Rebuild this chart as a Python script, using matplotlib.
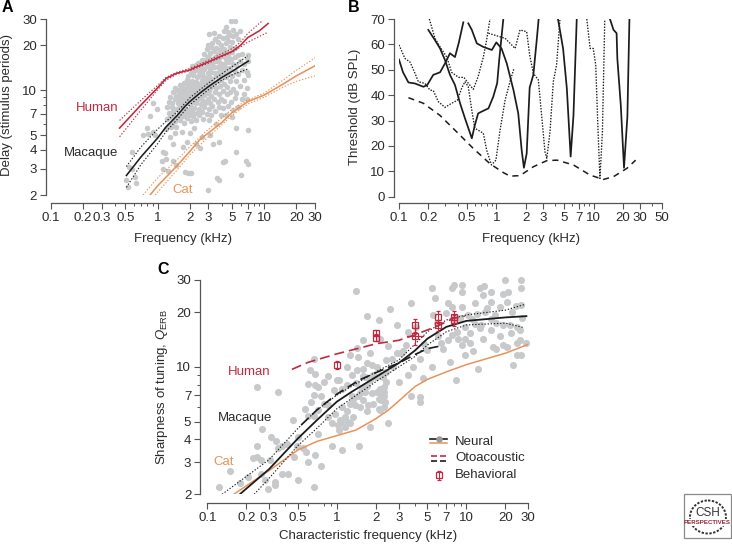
import matplotlib
matplotlib.use('Agg')
import matplotlib.pyplot as plt
from matplotlib.patches import Ellipse, Rectangle
from matplotlib.ticker import NullFormatter
import numpy as np

plt.rcParams['font.family'] = ['Liberation Sans', 'DejaVu Sans']
plt.rcParams['mathtext.fontset'] = 'custom'
plt.rcParams['mathtext.rm'] = 'Liberation Sans'
plt.rcParams['mathtext.it'] = 'Liberation Sans:italic'

W, H = 732, 544
TXT = '#2b2b2b'
AXC = '#555555'
RED = '#c02a41'
ORG = '#e8935a'
BLK = '#1c1c1c'
DOT = '#c8c9ca'

# ---------- panel A ----------
a_sparse_f = [.505, .54, .57, .53, .63, .61, .57, .79, .73, .85, .91, .98, .82, .91, .94,
              1.13, 1.17, 1.09, 1.2, 1.13, 1.26, 1.4, 1.5, 1.8, 1.94, 2.08, 1.73, 1.87, 2.3, 2.5,
              3.3, 3.8, 2.6, 3.1, 2.2, 5.5, 5.5, 7.1, 6.8, 7.1, 6.1, 4.3, 4.1, 3.6, 3.8,
              3.0, 1.4, 1.3, 1.2, 1.35, 1.45, 1.68, 2.0]
a_sparse_d = [2.51, 3.1, 3.9, 2.27, 2.4, 2.65, 3.0, 5.6, 5.0, 6.7, 8.2, 7.5, 5.1, 5.3, 5.0,
              3.9, 3.8, 3.4, 3.5, 3.0, 2.9, 3.4, 3.15, 2.85, 2.8, 2.8, 4.2, 4.5, 4.4, 4.1,
              4.4, 4.5, 4.9, 5.0, 5.6, 3.9, 5.6, 5.4, 3.4, 3.2, 2.7, 3.4, 3.3, 2.6, 2.5,
              2.15, 4.4, 4.9, 5.5, 5.7, 5.2, 5.3, 5.2]

a_strip_f = [1.22, 1.27, 1.31, 1.36, 1.41, 1.45, 1.5, 1.54, 1.58, 1.63, 1.68, 1.73, 1.78, 1.83, 1.88,
             1.94, 1.99, 2.05, 2.1, 2.16, 2.22, 2.28, 2.34, 2.4, 2.46, 2.53, 2.6, 2.67, 2.74, 2.81,
             2.88, 2.95, 3.02, 3.1, 3.18, 3.27, 3.36, 3.45, 3.55, 3.65, 3.75, 3.86, 3.97, 4.1, 4.22,
             4.35, 4.48, 4.62, 4.78, 4.85, 4.95, 5.12, 5.3, 5.5, 5.7, 5.95, 6.2, 6.5, 6.85, 7.1]
a_strip_d = [[6.4, 7.8], [7.1, 8.4, 5.9], [6.6, 9.1], [7.7, 8.3, 6.0], [9.7, 6.9, 7.3],
             [8.7, 10.4, 6.2], [7.5, 9.2, 5.7], [8.2, 6.6, 9.9], [7.1, 8.9, 10.1], [7.9, 9.4, 6.3, 10.9],
             [8.5, 7.2, 9.8], [6.7, 8.1, 10.4, 9.1], [7.6, 8.8, 11.2, 6.1], [9.5, 7.1, 10.2],
             [8.3, 6.5, 9.9, 11.8], [7.4, 9.1, 10.7, 12.4], [8.7, 6.9, 11.3, 9.7],
             [7.8, 10.3, 13.1, 6.2, 9.2], [8.4, 11.6, 7.2, 14.5], [9.6, 6.7, 10.9, 12.6],
             [7.6, 8.9, 13.4, 10.2], [8.2, 11.4, 6.3, 14.8, 9.4], [7.1, 10.6, 12.3],
             [8.7, 9.8, 13.7, 15.3], [7.5, 11.1, 6.8, 12.7], [9.1, 10.4, 14.4, 8.1],
             [7.2, 11.8, 16, 9.7, 13.2], [8.5, 6.4, 10.8, 15.2, 12.4], [9.3, 7.7, 13.9, 17.5, 11.2],
             [10.1, 8.2, 12.1, 15.9], [7, 9.6, 14.6, 18.8, 11.7], [8.8, 10.9, 13.1, 16.7, 20.2],
             [7.5, 12.4, 24, 15.4, 6.3, 9.9], [8.3, 11.3, 14, 17.8, 10.4], [9.2, 6.8, 13.2, 16.2, 19.6],
             [7.9, 12, 15, 20.8, 10.7], [8.7, 11.1, 14.3, 18.2, 24.3], [7.3, 9.7, 13, 16.8, 22],
             [10.3, 12.4, 15.6, 19.2, 6], [8.4, 11.5, 14.4, 17.5, 21], [7.7, 9.4, 13.3, 16.4, 23],
             [10.7, 12.7, 18.7, 15.2], [8.8, 6.9, 11.8, 14.1, 20.2], [9.9, 13.2, 16.9, 17.9, 22.5, 7.6],
             [11, 15, 19, 25, 8.5], [12.3, 14.1, 16.2, 20.8, 26.5, 6.8], [9.4, 10.6, 18, 22.6],
             [7.9, 13, 15.5, 17.2, 21.3, 24.6], [11.5, 14.2, 19.5, 23.5, 9.8], [29, 16.2, 8.4],
             [12.5, 18.1, 21, 6.6], [10.2, 15.1, 23, 7.4, 25.3], [13.4, 16.8, 19.3, 8.9, 29],
             [11.6, 14.7, 24, 9.6], [12.9, 17.3, 22, 7.7], [10.7, 15.6, 24.8], [8.7, 13.7, 17.5],
             [11.7, 14.9, 9.5], [10.3, 13.3, 16.4, 8.7], [12.6, 15.8, 17.2]]

human_f = [.44, .7, 1.0, 1.2, 1.5, 2, 3, 4, 5, 6, 7, 9, 10.9]
human_d = [5.6, 8.0, 10.4, 12, 13, 13.7, 15.5, 17, 18.2, 20, 22.5, 25, 28]
human_up_f = [.44, .7, 1.0, 1.2, 1.5, 2, 3, 5, 6, 7, 9.5]
human_up_d = [6.3, 8.6, 10.8, 12.2, 13.2, 14, 15.9, 19, 21, 24, 29]
human_lo_f = [.44, .7, 1.0, 1.2, 1.5, 2, 3, 5, 6, 7, 10.9]
human_lo_d = [4.9, 7.4, 10.1, 11.7, 12.8, 13.5, 15.2, 18, 19.5, 21, 24.5]

mac_f = [.51, .7, 1, 1.2, 1.5, 1.8, 2, 2.5, 3, 4, 5, 7.1]
mac_d = [2.7, 3.6, 4.8, 5.7, 6.7, 7.8, 8.4, 9.6, 10.6, 12.2, 13.4, 15.7]
mac_up_f = [.51, .7, 1, 1.2, 1.5, 2, 3, 4, 5, 7]
mac_up_d = [3.1, 4.2, 5.5, 6.2, 7.1, 8.9, 11.2, 12.9, 14.4, 17]
mac_lo_f = [.51, .7, 1, 1.2, 1.5, 2, 3, 4, 5, 7.2]
mac_lo_d = [2.25, 3.2, 4.4, 5.3, 6.3, 8, 10.1, 11.7, 12.7, 14]

cat_f = [.85, 1, 1.5, 2, 2.5, 3, 4, 5, 7, 10, 15, 20, 30]
cat_d = [2, 2.3, 3.1, 3.9, 4.7, 5.2, 6.1, 7.1, 8.4, 9.3, 11, 12.5, 14.6]
cat_up_f = [.73, 1, 1.5, 2, 3, 5, 7, 10, 15, 20, 30]
cat_up_d = [2, 2.6, 3.4, 4.2, 5.5, 7.5, 8.6, 9.6, 11.7, 13.6, 16.5]
cat_lo_f = [.95, 1.5, 2, 3, 5, 7, 10, 15, 20, 30]
cat_lo_d = [2, 2.9, 3.7, 4.9, 6.8, 8.1, 9, 10.5, 11.5, 12.5]

# ---------- panel B ----------
env_f = [.125, .178, .264, .39, .58, .86, 1.18, 1.38, 1.75, 2.4, 3.3, 4.2, 6.2, 9.2, 12.6, 16, 22, 27]
env_t = [39, 36.8, 32, 25.6, 19, 13, 9.5, 8.1, 8.3, 11.8, 14.2, 14.4, 12.5, 8.5, 6.8, 7.9, 11.2, 14.4]

s1_f = [.1, .11, .125, .146, .178, .195, .225, .264, .297, .334, .376, .41, .458]
s1_t = [54, 49, 45, 44.6, 43.3, 44, 48, 49, 52.5, 56.5, 55, 60.4, 68.7]
s2_f = [.2, .234, .264, .297, .334, .376, .424, .476, .56, .6, .65, .705, .83, .93, 1.02, 1.07, 1.18]
s2_t = [65.7, 61.7, 58.4, 53.8, 48, 44, 36.8, 30.9, 23, 28, 32.8, 33.5, 34.8, 39.4, 44.7, 53.8, 70]
s3_f = [.515, .56, .63, .735, .9, 1, 1.13, 1.28, 1.5, 1.68, 1.82, 1.92, 2.05, 2.2, 2.4, 2.6, 2.72]
s3_t = [68.3, 65.7, 60.4, 59, 57.8, 60.8, 58.4, 52.5, 42, 32.8, 18.4, 11.4, 17, 43, 48, 61.7, 70]
s4_f = [4.3, 4.85, 5.3, 5.8, 6.2, 6.7]
s4_t = [70, 58.4, 42.7, 15.8, 32, 70]
s5_f = [14.7, 16, 17.2, 17.5, 19, 20.5, 22.2, 23.3]
s5_t = [70, 65.7, 64.4, 54.5, 36, 11.4, 31.5, 70]

d1_f = [.1, .115, .13, .146, .158, .185, .208, .225, .254, .297, .347, .398, .44, .476, .515, .56, .6,
        .735, .795, .89, .99, 1.09, 1.23, 1.38, 1.52]
d1_t = [59.8, 54.5, 53, 48.6, 45.3, 44.6, 42, 41.8, 37.4, 35.2, 36.8, 38, 42.7, 45.3, 43.3, 34, 27,
        25, 18.4, 12.5, 14.4, 26, 38, 45.3, 50.6]
d2_f = [.205, .234, .264, .31, .347, .41, .465, .515, .58, .65, .735, .795, .86]
d2_t = [70, 62.4, 59, 55, 49, 47, 47, 44.7, 42.3, 47.3, 55, 61.7, 70]
d3_f = [.83, 1.09, 1.23, 1.56, 1.75, 2.05, 2.2, 2.4, 2.7, 2.92, 3.16, 3.3, 3.56, 3.85, 4.16, 4.5]
d3_t = [64.4, 63, 62.4, 58.4, 65.7, 65, 55.8, 48.6, 46, 32, 17.7, 15.1, 25.6, 45.3, 51.9, 69.6]
d4_f = [8.5, 9.2, 9.9, 10.5, 11.1, 11.6, 12.3, 13]
d4_t = [70, 58.4, 58.4, 51.9, 25.6, 7.2, 25.6, 69.6]

# ---------- panel C ----------
c_cf = [.124, .15, .18, .207, .226, .243, .243, .24, .26, .265, .28, .295, .26, .305, .35, .31, .34, .35,
        .335, .335, .375, .42, .5, .66, .465, .46, .57, .5, .49, .58, .6, .75, .68, .375, .41, .55,
        .66, .62, .68, .6, .72, .86, 1, 1.04, .8, .68, .76, .66, .63, .66, .6, .72, .79, .86, .91, .97,
        1.03, .91, 1.1, 1.48, .72, 1.26, 1.15, 1.34, 1.19, 1.09, 1.26, 1.38, 1.5, 1.34, 1.46, 1.6, 1.7,
        1.8, 2.5, 2.15, 2.3, 2.35, 2.1, 1.4, 1.7, 2.1, 2.55, 2.9, 2.15, 1.46, 1.26, 1.19, 1.6, 1.42, 1.8,
        2.5, 1.6, 1.42, 1.3, 1.6, 1.7, 1.85, 2.03, 1.7, 1.85, 2.03, 2.15, 2.3, 2.4, 2.3, 2.1, 1.8, 1.9,
        1.65, 1.5, 2.2, 2.4, 2.4, 2.7, 3, 3.7, 4.4, 4.4, 4.6, 3.55, 3.25, 3.55, 3.7, 5.4, 5.7, 5.55, 5.45,
        6.6, 6.4, 7.2, 7.7, 7.4, 8.3, 7.7, 8, 9.2, 9.2, 9.2, 9.7, 12.3, 23, 24.5, 26.5, 29, 26, 19.8,
        26.5, 26.5, 12.7, 13.7, 15.6, 13.5, 19.3, 21, 15.4, 11.6, 18.2, 20.4, 26.5, 14, 15.4, 11, 11.6,
        12.7, 13.5, 15.6, 17, 19.3, 21.6, 24.5, 22, 26, 16, 17, 19.3, 20.5, 24.5, 10.7, 9.7, 9.2, 8.6,
        8.4, 7.7, 7.2, 10.7, 11.3, 9.7, 5.9, 4.1, 4.4, 3.9, 2.9, 2.65,
        .85, .95, 1.05, 1.1, 1.2, 1.3, 1.4, 1.55, 1.65, 1.75, 1.9, 2.0, 2.2, 2.25, 3.1, 3.4, 4.7, 5.0,
        6.0, 6.9, 8.0, 8.9, 10.2, 12, 13, 14.5, 16.5, 18, 22.5, 24, 27,
        1.02, 1.08, 1.15, 1.22, 2.2, 2.25, 2.15, 2.3]
c_q = [2.18, 2.7, 2.32, 2.5, 3.15, 3.7, 3.2, 7.8, 3.1, 4.55, 2.4, 2.15, 2.6, 3.1, 7.3, 4.15, 3.9, 3.6,
       2.35, 2.25, 2.6, 2.6, 2.4, 2.2, 3.2, 5.1, 5.9, 4.1, 3.7, 3.4, 3, 2.85, 3.3, 3.7, 3.8, 3.6,
       11.1, 9.6, 9.2, 8.1, 7.8, 8.9, 8.5, 8.5, 8.3, 8, 6.9, 7, 6.4, 5.4, 5.4, 5.8, 6.3, 5.3, 4.9, 5.5,
       4.5, 3.7, 3.5, 3.7, 4.3, 4.9, 5.3, 5.3, 5.7, 6, 6.3, 6.2, 6, 6.7, 6.9, 6.6, 5.7,
       4.7, 4.9, 5.8, 6, 6.4, 5.9, 26, 19, 18.2, 20.7, 17, 14.3, 11.4, 11.6, 10, 14, 12.7, 11.9,
       13.1, 9.8, 9.6, 9, 8.9, 10.5, 10.2, 10, 7.9, 7.2, 7.3, 7.2, 7.8, 8.3, 6.9, 6.7, 8.5, 9,
       7.3, 7.2, 9, 9.4, 10.9, 10, 8.3, 6.9, 6.8, 6.4, 8.7, 9, 12.2, 15.6, 22.4, 27, 23.8, 19.3, 10,
       12.6, 13.5, 22.4, 21.4, 10.7, 8.5, 27, 28, 28.2, 25.8, 21.4, 11.6, 9.8, 10.2, 11.6, 11.6, 13.5, 14, 30,
       30, 27, 27, 27.9, 25.8, 24.7, 25.2, 25.8, 22.8, 22.4, 21.4, 22.8, 21.9, 20, 18.4, 18.4, 17.3,
       16.3, 14.3, 16, 17.4, 17, 17, 16.6, 15.3, 16, 12.9, 12.6, 13.2, 12.9, 13.5, 15.3, 14.3, 13.2, 14.3,
       15.6, 15, 14, 13.5, 12.3, 16.6, 17.4, 16.6, 11, 10, 11.9, 11,
       6.2, 7.5, 5.1, 7.6, 8, 6.9, 8.2, 7.7, 8.8, 6.2, 6.3, 8.8, 6.6, 8.8, 12, 13.2, 13.3, 12.4,
       14.7, 19.8, 18.4, 18.6, 19.3, 19.4, 17, 21, 19.2, 14.8, 20, 21.5, 18.5,
       4.8, 5, 4.7, 5, 7.3, 7, 7.6, 7.3]

neural_f = [.178, .3, .5, .7, 1, 1.3, 2, 3, 4, 5, 7, 10, 20, 29]
neural_q = [2, 2.75, 4.05, 5.1, 6.45, 7.3, 8.8, 10.5, 12.3, 14.3, 16.6, 17.9, 18.7, 19]
neural_up_f = [.13, .3, .5, .7, 1, 2, 3, 5, 7, 10, 20, 28]
neural_up_q = [2, 3.1, 4.6, 5.8, 7, 9.4, 10.9, 15.6, 18.1, 19.3, 20.5, 22]
neural_lo_f = [.23, .3, .5, .7, 1, 2, 3, 4, 5, 7, 10, 20, 28]
neural_lo_q = [2, 2.45, 3.7, 4.6, 5.9, 8.3, 10, 11.4, 13.2, 15.6, 17, 17.4, 16.4]
cat_n_f = [.16, .3, .5, .7, 1, 1.4, 2, 2.5, 3, 4, 5, 7, 10, 20, 30]
cat_n_q = [2, 2.7, 3.5, 3.9, 4.2, 4.5, 5.2, 5.8, 6.5, 7.8, 8.55, 9.4, 10.3, 11.9, 13.3]
oto_h_f = [.45, .6, 1, 1.5, 2, 3, 4, 6, 8, 9.7]
oto_h_q = [9.7, 10.6, 11.8, 12.7, 13.4, 14, 15, 16.8, 18.5, 19]
oto_m_f = [.53, .7, 1, 1.5, 2, 3, 4, 5, 6.2]
oto_m_q = [4.8, 5.8, 7.1, 8.5, 9.3, 10.5, 11.7, 12.6, 13]
beh_f = [1, 2, 2, 4, 4, 6, 6, 8, 8]
beh_q = [10.3, 15.3, 14.5, 16.9, 14.8, 18.9, 16.9, 18.9, 18]
beh_err = [.5, .6, .7, 1.4, 1.6, 1.4, 1.2, 1.4, 1.2]


def px_axes(left, right, top, bottom):
    return fig.add_axes([left / W, 1 - bottom / H, (right - left) / W, (bottom - top) / H])


def style_axis(ax, xt, xl, xminor, yt, yl, yminor, xlim, ylim, left_gap, bottom_gap, logy=True):
    ax.set_xscale('log')
    if logy:
        ax.set_yscale('log')
    ax.set_xlim(xlim)
    ax.set_ylim(ylim)
    ax.set_xticks(xt, xl)
    ax.set_xticks(xminor, minor=True)
    ax.set_yticks(yt, yl)
    ax.set_yticks(yminor, minor=True)
    ax.xaxis.set_minor_formatter(NullFormatter())
    ax.yaxis.set_minor_formatter(NullFormatter())
    for s in ['top', 'right']:
        ax.spines[s].set_visible(False)
    ax.spines['left'].set_position(('outward', left_gap * 0.72))
    ax.spines['bottom'].set_position(('outward', bottom_gap * 0.72))
    for s in ['left', 'bottom']:
        ax.spines[s].set_color(AXC)
        ax.spines[s].set_linewidth(0.9)
    ax.tick_params(which='major', length=4, width=0.8, color=AXC, labelsize=9.5, labelcolor=TXT, pad=2.5)
    ax.tick_params(which='minor', length=2.5, width=0.7, color=AXC)
    ax.patch.set_alpha(0)


def band(ax, f, v, fu, vu, fl, vl, color, lw=1.15):
    ax.plot(f, v, color=color, lw=lw, zorder=4)
    ax.plot(fu, vu, color=color, lw=0.8, ls=(0, (1.2, 1.6)), zorder=4)
    ax.plot(fl, vl, color=color, lw=0.8, ls=(0, (1.2, 1.6)), zorder=4)


fig = plt.figure(figsize=(W / 100, H / 100), dpi=100)

# A
axa = px_axes(51, 315, 19, 195)
style_axis(axa, [.1, .2, .3, .5, 1, 2, 3, 5, 7, 10, 20, 30],
           ['0.1', '0.2', '0.3', '0.5', '1', '2', '3', '5', '7', '10', '20', '30'],
           [.4, .6, .7, .8, .9, 4, 6, 8, 9],
           [2, 3, 4, 5, 7, 10, 20, 30], ['2', '3', '4', '5', '7', '10', '20', '30'],
           [6, 8, 9], (.1, 30), (2, 30), 5, 8)
axa.scatter(a_sparse_f, a_sparse_d, s=16, color=DOT, lw=0, zorder=1)
for f, ds in zip(a_strip_f, a_strip_d):
    axa.scatter([f] * len(ds), ds, s=16, color=DOT, lw=0, zorder=1)
band(axa, human_f, human_d, human_up_f, human_up_d, human_lo_f, human_lo_d, RED)
band(axa, mac_f, mac_d, mac_up_f, mac_up_d, mac_lo_f, mac_lo_d, BLK)
band(axa, cat_f, cat_d, cat_up_f, cat_up_d, cat_lo_f, cat_lo_d, ORG)

# B
axb = px_axes(399, 661.7, 19, 196.7)
style_axis(axb, [.1, .2, .5, 1, 2, 3, 5, 7, 10, 20, 30, 50],
           ['0.1', '0.2', '0.5', '1', '2', '3', '5', '7', '10', '20', '30', '50'],
           [.3, .4, .6, .7, .8, .9, 4, 6, 8, 9, 40],
           list(range(0, 71, 10)), [str(v) for v in range(0, 71, 10)], [],
           (.1, 50), (0, 70), 5, 6.5, logy=False)
axb.plot(env_f, env_t, color=BLK, lw=1.1, ls=(0, (4, 3.2)))
for f, t in [(s1_f, s1_t), (s2_f, s2_t), (s3_f, s3_t), (s4_f, s4_t), (s5_f, s5_t)]:
    axb.plot(f, t, color=BLK, lw=1.25)
for f, t in [(d1_f, d1_t), (d2_f, d2_t), (d3_f, d3_t), (d4_f, d4_t)]:
    axb.plot(f, t, color=BLK, lw=0.95, ls=(0, (1.1, 1.1)))

# C
axc = px_axes(207.3, 528.3, 280, 494.3)
style_axis(axc, [.1, .2, .3, .5, 1, 2, 3, 5, 7, 10, 20, 30],
           ['0.1', '0.2', '0.3', '0.5', '1', '2', '3', '5', '7', '10', '20', '30'],
           [.4, .6, .8, .9, 4, 6, 8, 9],
           [2, 3, 4, 5, 7, 10, 20, 30], ['2', '3', '4', '5', '7', '10', '20', '30'],
           [6, 8, 9], (.1, 30), (2, 30), 7, 9)
axc.scatter(c_cf, c_q, s=26, color=DOT, lw=0, zorder=1, clip_on=False)
axc.plot(cat_n_f, cat_n_q, color=ORG, lw=1.1, zorder=3)
band(axc, neural_f, neural_q, neural_up_f, neural_up_q, neural_lo_f, neural_lo_q, BLK, lw=1.3)
axc.plot(oto_h_f, oto_h_q, color=RED, lw=1.2, ls=(0, (6, 3)), zorder=4)
axc.plot(oto_m_f, oto_m_q, color=BLK, lw=1.2, ls=(0, (6, 3)), zorder=4)
axc.errorbar(beh_f, beh_q, yerr=beh_err, fmt='s', ms=4, mfc='none', mec=RED, mew=0.9,
             ecolor=RED, elinewidth=0.8, capsize=1.5, capthick=0.7, zorder=5)
axc.plot([3.45, 4.65], [14.8, 14.8], color=RED, lw=0.9, zorder=5)

# text, legend and logo in pixel coordinates
ov = fig.add_axes([0, 0, 1, 1])
ov.set_xlim(0, W)
ov.set_ylim(H, 0)
ov.axis('off')
ov.patch.set_alpha(0)

for s, x, y in [('A', 2, 8), ('B', 348, 8), ('C', 157, 270)]:
    ov.text(x, y, s, fontsize=11.5, fontweight='bold', color='black', ha='left', va='center')

lab = dict(fontsize=9.5, color=TXT, ha='center', va='center')
ov.text(183, 239, 'Frequency (kHz)', **lab)
ov.text(531, 239, 'Frequency (kHz)', **lab)
ov.text(368, 536, 'Characteristic frequency (kHz)', **lab)
ov.text(7, 105, 'Delay (stimulus periods)', rotation=90, **lab)
ov.text(355, 107, 'Threshold (dB SPL)', rotation=90, **lab)
ov.text(162, 387, r'Sharpness of tuning, $\mathit{Q}_{\mathrm{ERB}}$', rotation=90, **lab)

for s, x, y, c in [('Human', 97.5, 108, RED), ('Macaque', 91.5, 153, TXT), ('Cat', 183, 190, ORG),
                   ('Human', 249.5, 372, RED), ('Macaque', 245.5, 418, TXT), ('Cat', 224, 462, ORG)]:
    ov.text(x, y, s, fontsize=9.5, color=c, ha='center', va='center')

ov.plot([430, 447], [439, 439], color=BLK, lw=1.2)
ov.scatter([439], [439], s=22, color='#9a9a9a', lw=0, zorder=3)
ov.plot([430, 447], [443, 443], color=ORG, lw=1.1)
ov.plot([431, 447], [455.5, 455.5], color=RED, lw=1.2, ls=(0, (3.6, 1.8)))
ov.plot([431, 447], [461, 461], color=BLK, lw=1.2, ls=(0, (3.6, 1.8)))
ov.errorbar([439], [475], yerr=[4.5], fmt='s', ms=4, mfc='none', mec=RED, mew=0.9,
            ecolor=RED, elinewidth=0.8, capsize=1.5, capthick=0.7)
for s, y in [('Neural', 441.7), ('Otoacoustic', 458), ('Behavioral', 475)]:
    ov.text(455, y, s, fontsize=9.5, color=TXT, ha='left', va='center')

ov.add_patch(Rectangle((684, 494), 47, 44, fill=False, ec='#8a8a8a', lw=0.9))
ov.add_patch(Ellipse((708, 517), 36, 33, fill=False, ec='#333333', lw=1.4, ls=(0, (1.2, 0.8))))
ov.add_patch(Rectangle((686, 519), 43, 7, fc='white', ec='none', zorder=3))
ov.text(707.5, 513, 'CSH', fontsize=8.5, color='#333333', ha='center', va='center', zorder=4)
ov.text(707.5, 522.5, 'PERSPECTIVES', fontsize=4.4, fontweight='bold', color='#8c2a3a',
        ha='center', va='center', zorder=4)

fig.savefig('out.png', dpi=100)
plt.close()
